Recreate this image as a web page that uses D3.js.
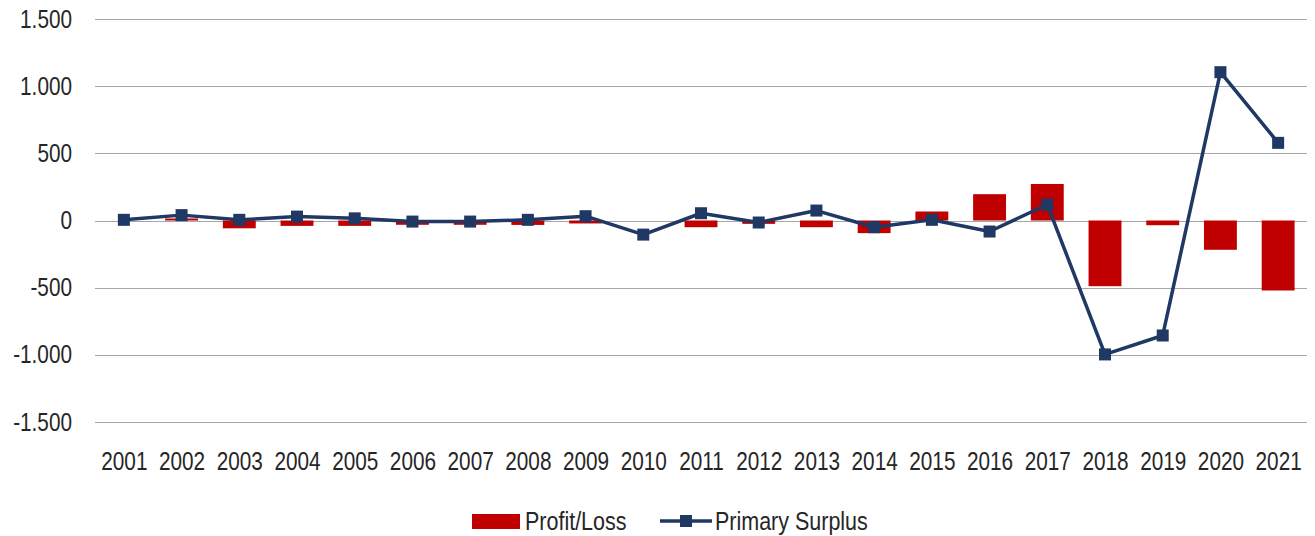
<!DOCTYPE html>
<html>
<head>
<meta charset="utf-8">
<script src="https://cdn.jsdelivr.net/npm/d3@7"></script>
<style>
  html, body { margin: 0; padding: 0; background: #fff; }
  svg { display: block; }
  text { font-family: "Liberation Sans", Arial, sans-serif; fill: #262626; }
</style>
</head>
<body>
<svg id="chart" width="1315" height="536"></svg>
<script>
// Years on the x axis
const years = ["2001","2002","2003","2004","2005","2006","2007","2008","2009","2010","2011",
               "2012","2013","2014","2015","2016","2017","2018","2019","2020","2021"];
// Profit/Loss (bars)
const profitLoss = [0, 15, -58, -40, -40, -32, -32, -33, -22, 0, -50,
                    -25, -50, -94, 67, 196, 272, -489, -35, -218, -521];
// Primary Surplus (line with square markers)
const primarySurplus = [5, 40, 5, 29, 16, -8, -8, 5, 32, -105, 54,
                        -15, 74, -50, 5, -82, 119, -997, -856, 1104, 578];
// Y axis ticks
const yTicks = [-1500, -1000, -500, 0, 500, 1000, 1500];
const seriesNames = ["Profit/Loss", "Primary Surplus"];

const barColor = "#C00000";
const lineColor = "#1F3864";
const textColor = "#262626";
const fontSize = 25;
const squeeze = 0.83;   // horizontal condensing of labels

const svg = d3.select("#chart");
const plot = { left: 95, right: 1307, top: 19, bottom: 422 };

const x = d3.scaleBand().domain(years).range([plot.left, plot.right]).paddingInner(0.43).paddingOuter(0.215);
const xc = d3.scalePoint().domain(years).range([plot.left, plot.right]).padding(0.5);
const y = d3.scaleLinear().domain([-1500, 1500]).range([plot.bottom, plot.top]);

// Dot as thousands separator, plain hyphen for negatives
const fmt = v => d3.format(",")(v).replace(/,/g, ".").replace("\u2212", "-");

// Horizontal gridlines
svg.append("g")
  .selectAll("line")
  .data(yTicks)
  .join("line")
  .attr("x1", plot.left).attr("x2", plot.right)
  .attr("y1", d => Math.round(y(d)) + 0.5).attr("y2", d => Math.round(y(d)) + 0.5)
  .attr("stroke", "#a6a6a6").attr("stroke-width", 1.2);

const styleTicks = g => {
  g.select(".domain").remove();
  g.selectAll("text")
    .attr("font-size", fontSize)
    .attr("fill", textColor)
    .attr("transform", `scale(${squeeze},1)`)
    .style("font-family", '"Liberation Sans", Arial, sans-serif');
};

// Y axis labels
svg.append("g")
  .attr("transform", "translate(72,0)")
  .call(d3.axisLeft(y).tickValues(yTicks).tickFormat(fmt).tickSize(0).tickPadding(0))
  .call(styleTicks);

// X axis labels
svg.append("g")
  .attr("transform", "translate(0,452)")
  .call(d3.axisBottom(xc).tickSize(0).tickPadding(0))
  .call(styleTicks);

// Bars
svg.append("g")
  .selectAll("rect")
  .data(years.map((yr, i) => ({ yr, v: profitLoss[i] })))
  .join("rect")
  .attr("x", d => x(d.yr))
  .attr("width", x.bandwidth())
  .attr("y", d => Math.min(y(d.v), y(0)))
  .attr("height", d => Math.abs(y(d.v) - y(0)))
  .attr("fill", barColor);

// Line
const pts = years.map((yr, i) => ({ yr, v: primarySurplus[i] }));
svg.append("path")
  .datum(pts)
  .attr("fill", "none")
  .attr("stroke", lineColor)
  .attr("stroke-width", 3.5)
  .attr("stroke-linejoin", "round")
  .attr("d", d3.line().x(d => xc(d.yr)).y(d => y(d.v)));

// Square markers
const ms = 12;
svg.append("g")
  .selectAll("rect")
  .data(pts)
  .join("rect")
  .attr("x", d => xc(d.yr) - ms / 2)
  .attr("y", d => y(d.v) - ms / 2)
  .attr("width", ms).attr("height", ms)
  .attr("fill", lineColor);

// Legend
const legendSqueeze = 0.86;
const legend = svg.append("g");
legend.append("rect")
  .attr("x", 472).attr("y", 514).attr("width", 48).attr("height", 15)
  .attr("fill", barColor);
legend.append("g").attr("transform", "translate(525,521)")
  .append("text")
  .attr("dy", "0.35em").attr("font-size", fontSize)
  .attr("transform", `scale(${legendSqueeze},1)`)
  .text(seriesNames[0]);
legend.append("line")
  .attr("x1", 660).attr("x2", 712).attr("y1", 521).attr("y2", 521)
  .attr("stroke", lineColor).attr("stroke-width", 3.5);
legend.append("rect")
  .attr("x", 686 - ms / 2).attr("y", 521 - ms / 2).attr("width", ms).attr("height", ms)
  .attr("fill", lineColor);
legend.append("g").attr("transform", "translate(715,521)")
  .append("text")
  .attr("dy", "0.35em").attr("font-size", fontSize)
  .attr("transform", `scale(${legendSqueeze},1)`)
  .text(seriesNames[1]);
</script>
</body>
</html>
